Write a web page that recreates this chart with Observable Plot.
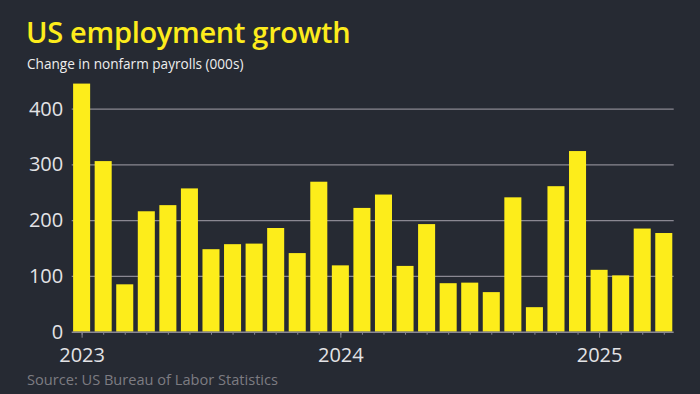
<!DOCTYPE html>
<html><head><meta charset="utf-8">
<script src="https://cdn.jsdelivr.net/npm/d3@7"></script>
<script src="https://cdn.jsdelivr.net/npm/@observablehq/plot@0.6"></script>
<style>
html,body{margin:0;padding:0;}
body{background:#262a33;width:700px;height:394px;overflow:hidden;position:relative;font-family:"Open Sans",sans-serif;}
#title{position:absolute;left:26px;top:12px;font-size:29px;font-weight:600;color:#fdec1c;white-space:nowrap;letter-spacing:-0.3px;}
#subtitle{position:absolute;left:27px;top:54px;font-size:13.6px;color:#eeeeee;white-space:nowrap;}
#chart{position:absolute;left:0;top:75px;}
#source{position:absolute;left:27px;top:369px;font-size:14.6px;color:#7d7c82;white-space:nowrap;}
</style></head>
<body>
<div id="title">US employment growth</div>
<div id="subtitle">Change in nonfarm payrolls (000s)</div>
<div id="chart"></div>
<div id="source">Source: US Bureau of Labor Statistics</div>
<script>
const months = ["2023-01","2023-02","2023-03","2023-04","2023-05","2023-06","2023-07","2023-08","2023-09","2023-10","2023-11","2023-12",
"2024-01","2024-02","2024-03","2024-04","2024-05","2024-06","2024-07","2024-08","2024-09","2024-10","2024-11","2024-12",
"2025-01","2025-02","2025-03","2025-04"];
const payrolls = [445,306,85,216,227,257,148,157,158,186,141,269,
119,222,246,118,193,87,88,71,241,44,261,324,
111,101,185,177];
const yTicks = [0,100,200,300,400];
const yearTicks = ["2023-01","2024-01","2025-01"];
const yearLabels = ["2023","2024","2025"];

const data = months.map((m,i)=>({month:m, value:payrolls[i]}));
const grid = "#8a8892";

const chart = Plot.plot({
  width:700, height:300,
  marginLeft:71.7, marginRight:26.3, marginTop:5.8, marginBottom:43.3,
  style:{background:"transparent", color:"#e3e3e6", fontFamily:"'Open Sans', sans-serif", fontSize:"20px", overflow:"visible"},
  x:{type:"band", domain:months, paddingInner:0.21, paddingOuter:0.065, round:false, axis:null},
  y:{domain:[0,450], axis:null},
  marks:[
    Plot.gridY(yTicks.slice(1), {stroke:grid, strokeOpacity:1, strokeWidth:1.3}),
    Plot.axisY(yTicks, {tickSize:0, tickPadding:9, fontSize:20, fill:"#e3e3e6", label:null}),
    Plot.barY(data, {x:"month", y:"value", fill:"#fded1b"}),
    Plot.ruleY([0], {stroke:grid, strokeWidth:1.5}),
    Plot.axisX(months, {tickSize:3, tickFormat:()=>"", stroke:grid, label:null}),
    Plot.axisX(yearTicks, {tickSize:6, tickPadding:10, stroke:grid, fill:"#e3e3e6", fontSize:20, label:null,
      tickFormat:(d)=>yearLabels[yearTicks.indexOf(d)]})
  ]
});
document.getElementById("chart").appendChild(chart);
</script>
</body></html>
